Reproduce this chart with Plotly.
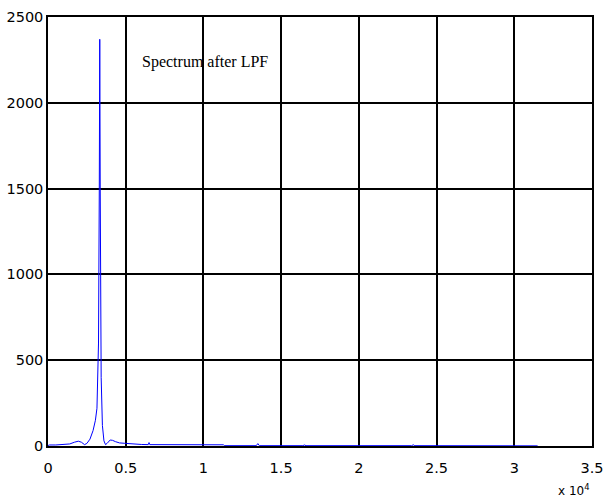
import plotly.graph_objects as go

# Spectrum after low-pass filter (frequency in Hz, magnitude)
freq = [0, 100, 500, 1000, 1400, 1700, 1950, 2150, 2350, 2500, 2700, 2900, 3050,
        3150, 3250, 3300, 3330, 3360, 3420, 3500, 3600, 3700, 3800, 4000, 4150,
        4350, 4600, 4900, 5200, 5500, 6000, 6450, 6500, 6550, 8000, 10000, 11300,
        11350, 13400, 13500, 13600, 16400, 16500, 16600, 23400, 23500, 23600, 31500]
mag = [3, 6, 6, 7, 12, 22, 28, 22, 8, 15, 40, 90, 150,
       220, 600, 1500, 2370, 1500, 400, 120, 30, 8, 15, 35, 33,
       25, 18, 16, 14, 10, 9, 8, 20, 8, 8, 7, 7,
       2, 2, 14, 2, 2, 6, 2, 2, 7, 2, 1]

x_tickvals = [0, 5000, 10000, 15000, 20000, 25000, 30000, 35000]
x_ticktext = ["0", "0.5", "1", "1.5", "2", "2.5", "3", "3.5"]
y_tickvals = [0, 500, 1000, 1500, 2000, 2500]

fig = go.Figure()
fig.add_trace(go.Scatter(x=freq, y=mag, mode="lines",
                         line=dict(color="#0000ff", width=1), hoverinfo="skip"))

fig.add_annotation(x=5950, y=2238, xref="x", yref="y", text="Spectrum after LPF",
                   showarrow=False, xanchor="left", yanchor="middle",
                   font=dict(family="Liberation Serif", size=16, color="black"))
fig.add_annotation(x=0.966, y=-0.102, xref="paper", yref="paper", text="x 10<sup>4</sup>",
                   showarrow=False, xanchor="center", yanchor="middle",
                   font=dict(family="DejaVu Sans", size=12, color="black"))

axis_common = dict(showgrid=True, gridcolor="black", gridwidth=1.5, showline=True,
                   linecolor="black", linewidth=1.5, mirror=True, zeroline=False,
                   automargin=False, ticks="", ticklabeloverflow="allow",
                   tickfont=dict(family="DejaVu Sans", size=14.5, color="black"))
fig.update_xaxes(range=[0, 35000], tickvals=x_tickvals, ticktext=x_ticktext,
                 ticklabelstandoff=8, **axis_common)
fig.update_yaxes(range=[0, 2500], tickvals=y_tickvals, ticklabelstandoff=0, **axis_common)

fig.update_layout(width=603, height=497, margin=dict(l=48, r=11, t=17, b=51),
                  plot_bgcolor="white", paper_bgcolor="white", showlegend=False)

# remove the default page margin so the figure fills the window exactly
fig.write_html("out.html", config={"displayModeBar": False},
               post_script="document.body.style.margin='0';document.body.style.overflow='hidden';")
